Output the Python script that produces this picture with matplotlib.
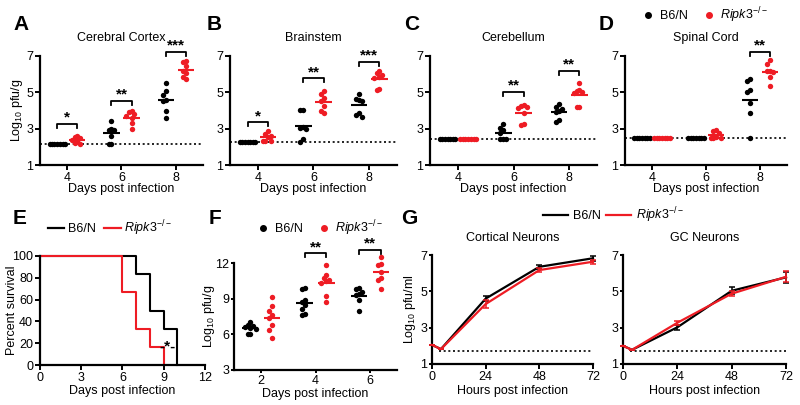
import numpy as np
import matplotlib
matplotlib.use('Agg')
import matplotlib.pyplot as plt
from matplotlib.lines import Line2D

plt.rcParams['font.family'] = ['Liberation Sans', 'DejaVu Sans']
plt.rcParams['mathtext.fontset'] = 'custom'
plt.rcParams['mathtext.rm'] = 'Liberation Sans'
plt.rcParams['mathtext.it'] = 'Liberation Sans:italic'
plt.rcParams['mathtext.bf'] = 'Liberation Sans:bold'

# ---------------- data ----------------
days = [4, 6, 8]
tissues = ['Cerebral Cortex', 'Brainstem', 'Cerebellum', 'Spinal Cord']
tissue_lod = [2.15, 2.28, 2.43, 2.47]

cortex_b6 = [[2.15, 2.15, 2.15, 2.15, 2.15, 2.15, 2.15],
             [3.4, 3.0, 2.9, 2.95, 2.6, 2.15, 2.15],
             [5.5, 5.1, 4.85, 4.6, 4.5, 4.0, 3.6]]
cortex_rk = [[2.6, 2.5, 2.55, 2.3, 2.15, 2.2, 2.4],
             [3.95, 3.9, 3.8, 3.7, 3.6, 3.3, 3.0],
             [6.75, 6.65, 6.45, 6.2, 6.05, 5.85, 5.75]]
brainstem_b6 = [[2.28, 2.28, 2.28, 2.28, 2.28, 2.28, 2.28],
                [4.05, 4.05, 3.1, 3.05, 3.0, 2.45, 2.28],
                [4.9, 4.65, 4.6, 4.55, 3.85, 3.75, 3.65]]
brainstem_rk = [[2.85, 2.7, 2.6, 2.55, 2.3, 2.3, 2.3],
                [5.1, 4.9, 4.7, 4.5, 4.25, 4.0, 3.85],
                [6.15, 6.05, 5.95, 5.85, 5.8, 5.2, 5.15]]
cerebellum_b6 = [[2.43, 2.43, 2.43, 2.43, 2.43, 2.43, 2.43],
                 [3.25, 3.05, 2.95, 2.75, 2.45, 2.43, 2.43],
                 [4.35, 4.2, 4.1, 4.0, 3.9, 3.45, 3.35]]
cerebellum_rk = [[2.43, 2.43, 2.43, 2.43, 2.43, 2.43, 2.43],
                 [4.3, 4.25, 4.2, 4.15, 3.85, 3.25, 3.2],
                 [5.5, 5.15, 5.05, 5.0, 4.95, 4.2, 4.2]]
spinal_b6 = [[2.47, 2.47, 2.47, 2.47, 2.47, 2.47, 2.47],
             [2.47, 2.47, 2.47, 2.47, 2.47, 2.47, 2.47],
             [5.75, 5.6, 5.15, 5.0, 4.4, 3.85, 2.47]]
spinal_rk = [[2.47, 2.47, 2.47, 2.47, 2.47, 2.47, 2.47],
             [2.9, 2.85, 2.75, 2.55, 2.47, 2.47, 2.47],
             [6.8, 6.55, 6.2, 6.15, 6.1, 5.85, 5.35]]
tissue_b6 = [cortex_b6, brainstem_b6, cerebellum_b6, spinal_b6]
tissue_rk = [cortex_rk, brainstem_rk, cerebellum_rk, spinal_rk]
tissue_sig = [[(4, '*', 3.26), (6, '**', 4.52), (8, '***', 7.23)],
              [(4, '*', 3.35), (6, '**', 5.77), (8, '***', 6.69)],
              [(6, '**', 5.03), (8, '**', 6.17)],
              [(8, '**', 7.23)]]

surv_days_b6 = [0, 7, 8, 9, 10]
surv_b6 = [100, 83.3, 50, 33.3, 0]
surv_days_rk = [0, 6, 7, 8, 9]
surv_rk = [100, 66.7, 33.3, 16.7, 0]

f_days = [2, 4, 6]
f_b6 = [[7.05, 6.8, 6.7, 6.65, 6.55, 6.45, 6.05, 6.0],
        [9.9, 9.85, 8.9, 8.75, 8.45, 8.1, 7.7, 7.6],
        [9.9, 9.8, 9.6, 9.4, 9.3, 8.9, 7.95]]
f_rk = [[9.1, 8.35, 7.95, 7.6, 7.4, 6.8, 6.4, 5.7],
        [11.8, 10.95, 10.7, 10.55, 10.45, 10.3, 9.2, 8.75],
        [12.5, 11.9, 11.85, 11.25, 10.7, 10.6, 9.85]]
f_sig = [(4, '**', 12.8), (6, '**', 13.1)]

hours = [0, 4, 24, 48, 72]
cort_b6 = [2.05, 1.82, 4.6, 6.35, 6.82]
cort_b6_err = [0, 0, 0.12, 0.12, 0.15]
cort_rk = [2.05, 1.82, 4.3, 6.17, 6.63]
cort_rk_err = [0, 0, 0.22, 0.1, 0.12]
gc_b6 = [2.0, 1.78, 3.02, 5.03, 5.77]
gc_b6_err = [0, 0, 0.15, 0.2, 0.3]
gc_rk = [2.0, 1.78, 3.27, 4.87, 5.8]
gc_rk_err = [0, 0, 0.1, 0.15, 0.3]
neuron_lod = 1.73

RED = '#ee1c24'
BLK = '#000000'
RK_LABEL = r'$\mathit{Ripk3}^{-/-}$'
FS_LAB = 9
FS_TICK = 9

# ---------------- figure ----------------
W, H = 800, 405
fig = plt.figure(figsize=(8, 4.05), dpi=100)


def ax_px(x0, y0, x1, y1):
    ax = fig.add_axes([x0 / W, 1 - y1 / H, (x1 - x0) / W, (y1 - y0) / H])
    ax._box = (x0, y0, x1, y1)
    return ax


def style(ax):
    for s in ['top', 'right']:
        ax.spines[s].set_visible(False)
    for s in ['left', 'bottom']:
        ax.spines[s].set_linewidth(1.6)
    ax.tick_params(direction='out', length=3.5, width=1.4, labelsize=FS_TICK, pad=1.5)


def set_xlabel_px(ax, text, ycenter):
    x0, y0, x1, y1 = ax._box
    ax.set_xlabel(text, fontsize=FS_LAB)
    ax.xaxis.set_label_coords(0.5, -(ycenter - y1) / (y1 - y0))
    ax.xaxis.label.set_va('center')


def set_ylabel_px(ax, text, xcenter):
    x0, y0, x1, y1 = ax._box
    ax.set_ylabel(text, fontsize=FS_LAB)
    ax.yaxis.set_label_coords(-(x0 - xcenter) / (x1 - x0), 0.5)
    ax.yaxis.label.set_va('center')


def swarm_x(vals, center, step=0.1, thr=0.28, maxw=0.28):
    vals = np.asarray(vals, float)
    order = np.argsort(-vals, kind='stable')
    xs = np.zeros(len(vals))
    placed = []
    cands = [0.0]
    for j in range(1, 10):
        cands += [-j * step, j * step]
    for i in order:
        v = vals[i]
        chosen = cands[-1]
        for c in cands:
            if all(abs(c - px) >= step * 0.99 or abs(v - pv) >= thr for px, pv in placed):
                chosen = c
                break
        chosen = max(-maxw, min(maxw, chosen))
        xs[i] = center + chosen
        placed.append((chosen, v))
    return xs


def scatter_group(ax, vals, center, color, thr, ms=15):
    xs = swarm_x(vals, center, thr=thr)
    ax.scatter(xs, vals, s=ms, color=color, zorder=3, clip_on=False, linewidths=0)
    m = np.mean(vals)
    ax.plot([center - 0.3, center + 0.3], [m, m], color=color,
            lw=1.5, zorder=4, clip_on=False, solid_capstyle='butt')


def bracket(ax, x0, x1, y, dy, text):
    ax.plot([x0, x0, x1, x1], [y - dy, y, y, y - dy], color='k', lw=1.3, clip_on=False)
    ax.text((x0 + x1) / 2, y - dy * 0.2, text, ha='center', va='bottom', fontsize=11,
            fontweight='bold', clip_on=False)


# top row
top_boxes = [(40, 56, 203, 165), (230, 56, 397, 165), (430, 56, 597, 165), (625, 56, 787, 165)]
off = 0.37
for k in range(4):
    ax = ax_px(*top_boxes[k])
    style(ax)
    ax.set_xlim(3, 9)
    ax.set_ylim(1, 7)
    ax.set_xticks(days)
    ax.set_yticks([1, 3, 5, 7])
    ax.axhline(tissue_lod[k], color='k', ls=(0, (1.2, 1.6)), lw=1.2, zorder=1)
    for d, vb, vr in zip(days, tissue_b6[k], tissue_rk[k]):
        scatter_group(ax, vb, d - off, BLK, 0.28)
        scatter_group(ax, vr, d + off, RED, 0.28)
    for d, t, y in tissue_sig[k]:
        bracket(ax, d - off, d + off, y, 0.22, t)
    ax.set_title(tissues[k], fontsize=9, pad=11)
    set_xlabel_px(ax, 'Days post infection', 189)
    if k == 0:
        set_ylabel_px(ax, r'Log$_{10}$ pfu/g', 17)

# legend top right (D)
h1 = Line2D([], [], marker='o', color=BLK, ls='none', ms=4)
h2 = Line2D([], [], marker='o', color=RED, ls='none', ms=4)
fig.legend([h1, h2], ['B6/N', RK_LABEL], loc='center', bbox_to_anchor=(705 / W, 1 - 15 / H),
           ncol=2, frameon=False, fontsize=9, handletextpad=0.4, columnspacing=1.2,
           handlelength=1.0, borderpad=0)

# E survival
ax = ax_px(40, 256, 205, 365)
style(ax)
ax.step(surv_days_b6, surv_b6, where='post', color=BLK, lw=1.5, clip_on=False)
ax.step(surv_days_rk, surv_rk, where='post', color=RED, lw=1.5, clip_on=False)
ax.set_xlim(0, 12)
ax.set_ylim(0, 100)
ax.set_xticks([0, 3, 6, 9, 12])
ax.set_yticks([0, 20, 40, 60, 80, 100])
ax.text(9.3, 17, '-*-', ha='center', va='center', fontsize=11, fontweight='bold', zorder=6)
set_xlabel_px(ax, 'Days post infection', 391)
set_ylabel_px(ax, 'Percent survival', 12)
l1 = Line2D([], [], color=BLK, lw=1.6)
l2 = Line2D([], [], color=RED, lw=1.6)
fig.legend([l1, l2], ['B6/N', RK_LABEL], loc='center', bbox_to_anchor=(110 / W, 1 - 228 / H),
           ncol=2, frameon=False, fontsize=9, handletextpad=0.3, columnspacing=0.7,
           handlelength=1.3, borderpad=0)

# F
ax = ax_px(234, 263, 397, 370)
style(ax)
ax.tick_params(length=2.5, pad=1)
ax.set_xlim(1, 7)
ax.set_ylim(3, 12)
ax.set_xticks(f_days)
ax.set_yticks([3, 6, 9, 12])
foff = 0.4
for d, vb, vr in zip(f_days, f_b6, f_rk):
    scatter_group(ax, vb, d - foff, BLK, 0.42)
    scatter_group(ax, vr, d + foff, RED, 0.42)
for d, t, y in f_sig:
    bracket(ax, d - foff, d + foff, y, 0.33, t)
set_xlabel_px(ax, 'Days post infection', 394)
set_ylabel_px(ax, r'Log$_{10}$ pfu/g', 209)
fig.legend([h1, h2], ['B6/N', RK_LABEL], loc='center', bbox_to_anchor=(320 / W, 1 - 228 / H),
           ncol=2, frameon=False, fontsize=9, handletextpad=0.4, columnspacing=1.2,
           handlelength=1.0, borderpad=0)

# G
g_boxes = [(432, 255, 593, 364), (623, 255, 786, 364)]
g_titles = ['Cortical Neurons', 'GC Neurons']
g_b6 = [(cort_b6, cort_b6_err), (gc_b6, gc_b6_err)]
g_rk = [(cort_rk, cort_rk_err), (gc_rk, gc_rk_err)]
for k in range(2):
    ax = ax_px(*g_boxes[k])
    style(ax)
    ax.tick_params(axis='y', length=2.5, pad=1)
    ax.set_xlim(0, 72)
    ax.set_ylim(1, 7)
    ax.set_xticks([0, 24, 48, 72])
    ax.set_yticks([1, 3, 5, 7])
    ax.plot([3, 72], [neuron_lod, neuron_lod], color='k', ls=(0, (1.2, 1.6)), lw=1.2, zorder=1)
    vb, eb = g_b6[k]
    vr, er = g_rk[k]
    ax.errorbar(hours, vb, yerr=eb, color=BLK, lw=1.6, capsize=2, elinewidth=1.1,
                capthick=1.1, clip_on=False, zorder=3)
    ax.errorbar(hours, vr, yerr=er, color=RED, lw=1.6, capsize=2, elinewidth=1.1,
                capthick=1.1, clip_on=False, zorder=4)
    ax.set_title(g_titles[k], fontsize=9, pad=10)
    set_xlabel_px(ax, 'Hours post infection', 391)
    if k == 0:
        set_ylabel_px(ax, r'Log$_{10}$ pfu/ml', 410)
fig.legend([l1, l2], ['B6/N', RK_LABEL], loc='center', bbox_to_anchor=(613 / W, 1 - 215 / H),
           ncol=2, frameon=False, fontsize=9, handletextpad=0.4, columnspacing=0.4,
           handlelength=2.0, borderpad=0)

# panel letters
for lab, x, y in [('A', 13, 25), ('B', 207, 25), ('C', 404, 25), ('D', 599, 25),
                  ('E', 13, 219), ('F', 209, 219), ('G', 401, 219)]:
    fig.text(x / W, 1 - y / H, lab, fontsize=15, fontweight='bold', ha='left', va='center')

fig.savefig('out.png', dpi=100)
